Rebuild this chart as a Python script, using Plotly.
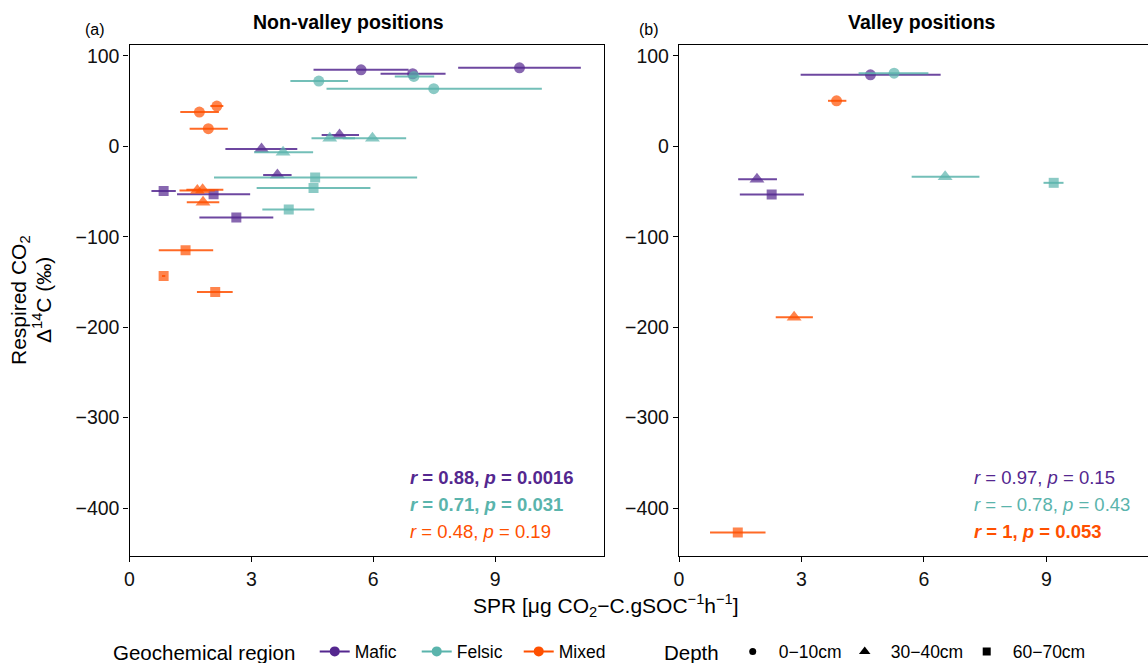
import plotly.graph_objects as go

# ---------------- data ----------------
regions = ["Mafic", "Felsic", "Mixed"]
depths = ["0\u221210cm", "30\u221240cm", "60\u221270cm"]

# Non-valley positions (panel a): SPR mean, Δ14C, SPR lower, SPR upper, depth index
nv_mafic_x    = [5.70, 6.97, 9.60, 5.17, 3.25, 3.64, 0.84, 2.07, 2.63]
nv_mafic_y    = [84.6, 80.2, 86.8, 12.5, -3.0, -31.7, -49.3, -53.0, -78.7]
nv_mafic_lo   = [4.53, 6.18, 8.09, 4.73, 2.36, 3.29, 0.54, 1.17, 1.72]
nv_mafic_hi   = [6.87, 7.78, 11.11, 5.65, 4.13, 3.99, 1.14, 2.97, 3.54]
nv_mafic_d    = [0, 0, 0, 1, 1, 1, 2, 2, 2]

nv_felsic_x   = [4.66, 7.00, 7.49, 4.93, 5.98, 3.78, 4.57, 4.53, 3.92]
nv_felsic_y   = [72.1, 77.3, 63.7, 9.0, 9.0, -6.6, -34.6, -46.0, -69.9]
nv_felsic_lo  = [3.96, 6.53, 4.85, 4.48, 5.25, 3.07, 2.08, 3.13, 3.27]
nv_felsic_hi  = [5.38, 7.50, 10.15, 5.55, 6.81, 4.52, 7.08, 5.93, 4.55]
nv_felsic_d   = [0, 0, 0, 1, 1, 1, 2, 2, 2]

nv_mixed_x    = [2.15, 1.72, 1.94, 1.67, 1.80, 1.81, 1.38, 0.84, 2.11]
nv_mixed_y    = [44.5, 37.9, 19.5, -48.9, -48.0, -61.8, -115.0, -143.5, -161.0]
nv_mixed_lo   = [1.99, 1.25, 1.48, 1.23, 1.40, 1.41, 0.72, 0.80, 1.66]
nv_mixed_hi   = [2.31, 2.20, 2.42, 2.10, 2.31, 2.21, 2.06, 0.88, 2.54]
nv_mixed_d    = [0, 0, 0, 1, 1, 1, 2, 2, 2]

# Valley positions (panel b)
v_mafic_x     = [4.69, 1.91, 2.27]
v_mafic_y     = [79.0, -36.3, -53.3]
v_mafic_lo    = [2.98, 1.45, 1.49]
v_mafic_hi    = [6.41, 2.40, 3.06]
v_mafic_d     = [0, 1, 2]

v_felsic_x    = [5.27, 6.52, 9.18]
v_felsic_y    = [80.8, -33.7, -40.4]
v_felsic_lo   = [4.40, 5.70, 8.93]
v_felsic_hi   = [6.11, 7.36, 9.42]
v_felsic_d    = [0, 1, 2]

v_mixed_x     = [3.86, 2.82, 1.44]
v_mixed_y     = [50.3, -189.0, -427.0]
v_mixed_lo    = [3.65, 2.37, 0.76]
v_mixed_hi    = [4.10, 3.28, 2.12]
v_mixed_d     = [0, 1, 2]

# correlation labels
nv_stats = [("0.88", "0.0016", True), ("0.71", "0.031", True), ("0.48", "0.19", False)]
v_stats = [("0.97", "0.15", False), ("\u2013 0.78", "0.43", False), ("1", "0.053", True)]

x_ticks = [0, 3, 6, 9]
y_ticks = [-400, -300, -200, -100, 0, 100]

# ---------------- style ----------------
W, H = 1148, 663
FONT = "Liberation Sans, Arial, sans-serif"
colors = {"Mafic": "#54278f", "Felsic": "#5ab4ac", "Mixed": "#ff5000"}
bar_colors = {"Mafic": "rgba(84,39,143,0.85)", "Felsic": "rgba(90,180,172,0.85)",
              "Mixed": "rgba(255,80,0,0.85)"}
symbols = ["circle", "triangle-up", "square"]
sizes = [11, 13, 10]

panel_top, panel_bot = 45, 556
def px(xp):
    return xp / W
def py(yp):
    return (panel_bot - yp) / (panel_bot - panel_top)

fig = go.Figure()

panels = [
    ("x", "y", {"Mafic": (nv_mafic_x, nv_mafic_y, nv_mafic_lo, nv_mafic_hi, nv_mafic_d),
                "Felsic": (nv_felsic_x, nv_felsic_y, nv_felsic_lo, nv_felsic_hi, nv_felsic_d),
                "Mixed": (nv_mixed_x, nv_mixed_y, nv_mixed_lo, nv_mixed_hi, nv_mixed_d)}),
    ("x2", "y2", {"Mafic": (v_mafic_x, v_mafic_y, v_mafic_lo, v_mafic_hi, v_mafic_d),
                  "Felsic": (v_felsic_x, v_felsic_y, v_felsic_lo, v_felsic_hi, v_felsic_d),
                  "Mixed": (v_mixed_x, v_mixed_y, v_mixed_lo, v_mixed_hi, v_mixed_d)}),
]

for xa, ya, data in panels:
    for reg in regions:
        xs, ys, lo, hi, d = data[reg]
        fig.add_trace(go.Scatter(
            x=xs, y=ys, xaxis=xa, yaxis=ya, mode="markers", showlegend=False,
            marker=dict(color=colors[reg], symbol=[symbols[i] for i in d],
                        size=[sizes[i] for i in d], line=dict(width=0)),
            error_x=dict(type="data", symmetric=False,
                         array=[h - x for h, x in zip(hi, xs)],
                         arrayminus=[x - l for x, l in zip(xs, lo)],
                         color=bar_colors[reg], thickness=2, width=0),
            hoverinfo="skip"))

# legend entries
for reg in regions:
    fig.add_trace(go.Scatter(x=[None], y=[None], mode="lines+markers", name=reg,
                             line=dict(color=colors[reg], width=2),
                             marker=dict(color=colors[reg], size=10, symbol="circle"),
                             legend="legend"))
depth_key_sizes = [7, 10, 8]
depth_key_widths = [55, 65, 70]
for i, dp in enumerate(depths):
    fig.add_trace(go.Scatter(x=[None], y=[None], mode="markers", name=dp,
                             marker=dict(color="black", size=depth_key_sizes[i], symbol=symbols[i]),
                             legend="legend2", legendwidth=depth_key_widths[i]))

axis_common = dict(showline=True, linecolor="black", linewidth=1.3, ticks="outside",
                   ticklen=5, tickwidth=1.3, tickcolor="black", showgrid=False, zeroline=False,
                   tickfont=dict(family=FONT, size=19.5, color="#111111"))

fig.update_layout(
    width=W, height=H, margin=dict(l=0, r=0, t=panel_top, b=H - panel_bot, autoexpand=False),
    paper_bgcolor="white", plot_bgcolor="white",
    font=dict(family=FONT, color="black"),
    xaxis=dict(domain=[px(129.5), px(604)], range=[0, 11.68], tickvals=x_ticks,
               mirror=True, anchor="y", **axis_common),
    yaxis=dict(domain=[0, 1], range=[-453, 112], tickvals=y_ticks, mirror=True,
               anchor="x", **axis_common),
    xaxis2=dict(domain=[px(679), 1], range=[0, 11.49], tickvals=x_ticks,
                mirror=True, anchor="y2", **axis_common),
    yaxis2=dict(domain=[0, 1], range=[-453, 112], tickvals=y_ticks, mirror=False,
                anchor="x2", **axis_common),
    legend=dict(orientation="h", x=px(111), xanchor="left", y=py(652), yanchor="middle",
                title=dict(text="Geochemical region\u00a0\u00a0", side="left",
                           font=dict(family=FONT, size=20.5, color="black")),
                font=dict(family=FONT, size=17.5, color="black"),
                itemwidth=30, entrywidth=57, entrywidthmode="pixels",
                bgcolor="rgba(0,0,0,0)"),
    legend2=dict(orientation="h", x=px(662), xanchor="left", y=py(652), yanchor="middle",
                 title=dict(text="Depth", side="left",
                            font=dict(family=FONT, size=20.5, color="black")),
                 font=dict(family=FONT, size=17.5, color="black"),
                 itemwidth=42, bgcolor="rgba(0,0,0,0)"),
)

ann = []
ann.append(dict(text="<b>Non-valley positions</b>", x=px(348), y=py(22), xref="paper", yref="paper",
                xanchor="center", yanchor="middle", showarrow=False,
                font=dict(family=FONT, size=19.5, color="black")))
ann.append(dict(text="<b>Valley positions</b>", x=px(922), y=py(22), xref="paper", yref="paper",
                xanchor="center", yanchor="middle", showarrow=False,
                font=dict(family=FONT, size=19.5, color="black")))
ann.append(dict(text="(a)", x=px(83), y=py(30), xref="paper", yref="paper",
                xanchor="left", yanchor="middle", showarrow=False,
                font=dict(family=FONT, size=16, color="black")))
ann.append(dict(text="(b)", x=px(637), y=py(30), xref="paper", yref="paper",
                xanchor="left", yanchor="middle", showarrow=False,
                font=dict(family=FONT, size=16, color="black")))
ann.append(dict(text="Respired CO<sub>2</sub>", x=px(20), y=py(300),
                xref="paper", yref="paper", xanchor="center", yanchor="middle", showarrow=False,
                textangle=-90, font=dict(family=FONT, size=21, color="black")))
ann.append(dict(text="\u0394<sup>14</sup>C (\u2030)", x=px(42), y=py(300),
                xref="paper", yref="paper", xanchor="center", yanchor="middle", showarrow=False,
                textangle=-90, font=dict(family=FONT, size=21, color="black")))
ann.append(dict(text="SPR [\u03bcg CO<sub>2</sub>\u2212C.gSOC<sup>\u22121</sup>h<sup>\u22121</sup>]",
                x=px(606), y=py(606), xref="paper", yref="paper", xanchor="center",
                yanchor="middle", showarrow=False, font=dict(family=FONT, size=21, color="black")))

rows_y = [477, 504, 531]
for stats, x0 in ((nv_stats, 408), (v_stats, 972)):
    for (r, p, bold), reg, yy in zip(stats, regions, rows_y):
        t = f"<i>r</i> = {r}, <i>p</i> = {p}"
        if bold:
            t = f"<b>{t}</b>"
        ann.append(dict(text=t, x=px(x0), y=py(yy), xref="paper", yref="paper",
                        xanchor="left", yanchor="middle", showarrow=False,
                        font=dict(family=FONT, size=18.5, color=colors[reg])))

fig.update_layout(annotations=ann)
fig.write_html("out.html")
